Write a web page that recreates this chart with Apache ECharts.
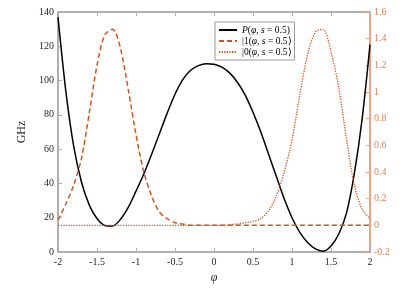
<!DOCTYPE html>
<html>
<head>
<meta charset="utf-8">
<script src="https://cdn.jsdelivr.net/npm/echarts@6/dist/echarts.min.js"></script>
<style>
  html, body { margin: 0; padding: 0; background: #fff; }
  #chart { width: 415px; height: 300px; }
</style>
</head>
<body>
<div id="chart"></div>
<script>
// phase values, step 0.1
const phi = [
  -2.0, -1.9, -1.8, -1.7, -1.6, -1.5, -1.4, -1.3, -1.2, -1.1,
  -1.0, -0.9, -0.8, -0.7, -0.6, -0.5, -0.4, -0.3, -0.2, -0.1,
  0.0, 0.1, 0.2, 0.3, 0.4, 0.5, 0.6, 0.7, 0.8, 0.9,
  1.0, 1.1, 1.2, 1.3, 1.4, 1.5, 1.6, 1.7, 1.8, 1.9, 2.0
]
// P(phi, s=0.5), GHz (left axis)
const potential = [
  137, 94, 62, 41, 27.5, 19.5, 15.5, 15.2, 19, 26,
  35.5, 45.5, 57, 69, 81, 92, 100.5, 106, 108.7, 109.8,
  109.5, 107.8, 104.5, 99, 91.5, 81.5, 70, 57, 44, 31,
  20, 11.5, 5.5, 1.8, 0.5, 3.5, 10.5, 23, 46, 78, 121
]
// |1> (right axis)
const ket1 = [
  0.04, 0.16, 0.30, 0.50, 0.84, 1.20, 1.43, 1.47, 1.33, 1.02,
  0.68, 0.40, 0.22, 0.10, 0.05, 0.02, 0.01, 0, 0, 0,
  0, 0, 0, 0, 0, 0, 0, 0, 0, 0,
  0, 0, 0, 0, 0, 0, 0, 0, 0, 0, 0
]
// |0> (right axis)
const ket0 = [
  0, 0, 0, 0, 0, 0, 0, 0, 0, 0,
  0, 0, 0, 0, 0, 0, 0, 0, 0, 0,
  0, 0, 0.005, 0.01, 0.02, 0.03, 0.05, 0.11, 0.22, 0.40,
  0.64, 0.98, 1.28, 1.45, 1.47, 1.30, 1.03, 0.64, 0.30, 0.12, 0.05
]

const orange = '#D95319'
const axisGray = '#b0b0b0'
const font = 'Liberation Serif'

const pair = vals => phi.map((p, i) => [p, vals[i]])
const fmt = v => String(parseFloat(v.toFixed(1)))

const chart = echarts.init(document.getElementById('chart'))

const rich = {
  i: { fontFamily: font, fontStyle: 'italic', fontSize: 9.5, color: '#000' },
  n: { fontFamily: font, fontSize: 9.5, color: '#000' }
}

chart.setOption({
  animation: false,
  grid: { left: 58, right: 45, top: 12, bottom: 48 },
  legend: {
    orient: 'vertical',
    left: 215,
    top: 22,
    itemWidth: 18,
    itemHeight: 10,
    itemGap: 1,
    padding: [3, 3, 3, 3],
    borderColor: '#999',
    borderWidth: 1,
    backgroundColor: '#fff',
    itemStyle: { opacity: 0 },
    textStyle: { fontFamily: font, fontSize: 9.5, color: '#000', rich },
    formatter: name => {
      if (name === 'P') return '{i|P}{n|(}{i|φ}{n|, }{i|s}{n| = 0.5)}'
      if (name === 'k1') return '{n||1(}{i|φ}{n|, }{i|s}{n| = 0.5⟩}'
      return '{n||0(}{i|φ}{n|, }{i|s}{n| = 0.5⟩}'
    }
  },
  xAxis: [
    {
      type: 'value',
      min: -2,
      max: 2,
      interval: 0.5,
      name: 'φ',
      nameLocation: 'middle',
      nameGap: 15,
      nameTextStyle: { fontFamily: font, fontStyle: 'italic', fontSize: 12, color: '#262626' },
      axisLine: { onZero: false, lineStyle: { color: axisGray, width: 2 } },
      axisTick: { inside: true, length: 4, lineStyle: { color: axisGray } },
      axisLabel: { fontFamily: font, fontSize: 10, color: '#262626', margin: 5, formatter: fmt },
      splitLine: { show: false }
    },
    {
      type: 'value',
      position: 'top',
      min: -2,
      max: 2,
      interval: 0.5,
      axisLine: { onZero: false, lineStyle: { color: axisGray, width: 2 } },
      axisTick: { inside: true, length: 4, lineStyle: { color: axisGray } },
      axisLabel: { show: false },
      splitLine: { show: false }
    }
  ],
  yAxis: [
    {
      type: 'value',
      min: 0,
      max: 140,
      interval: 20,
      name: 'GHz',
      nameLocation: 'middle',
      nameGap: 18,
      nameTextStyle: { fontFamily: font, fontSize: 12, color: '#262626' },
      axisLine: { show: true, onZero: false, lineStyle: { color: axisGray, width: 2 } },
      axisTick: { show: true, inside: true, length: 4, lineStyle: { color: axisGray } },
      axisLabel: { fontFamily: font, fontSize: 10, color: '#262626', margin: 4 },
      splitLine: { show: false }
    },
    {
      type: 'value',
      position: 'right',
      min: -0.2,
      max: 1.6,
      interval: 0.2,
      axisLine: { show: true, onZero: false, lineStyle: { color: '#eba383', width: 2 } },
      axisTick: { show: true, inside: true, length: 4, lineStyle: { color: '#eba383' } },
      axisLabel: { fontFamily: font, fontSize: 10, color: '#e07f52', margin: 4, formatter: fmt },
      splitLine: { show: false }
    }
  ],
  series: [
    {
      name: 'P',
      type: 'line',
      yAxisIndex: 0,
      data: pair(potential),
      smooth: 0.3,
      symbol: 'none',
      lineStyle: { color: '#000', width: 1.5 },
      itemStyle: { color: '#000' }
    },
    {
      name: 'k1',
      type: 'line',
      yAxisIndex: 1,
      data: pair(ket1),
      smooth: 0.3,
      symbol: 'none',
      lineStyle: { color: orange, width: 1.5, type: [5, 3] },
      itemStyle: { color: orange }
    },
    {
      name: 'k0',
      type: 'line',
      yAxisIndex: 1,
      data: pair(ket0),
      smooth: 0.3,
      symbol: 'none',
      lineStyle: { color: orange, width: 1.3, type: [1.3, 1.3] },
      itemStyle: { color: orange }
    }
  ]
})
</script>
</body>
</html>
